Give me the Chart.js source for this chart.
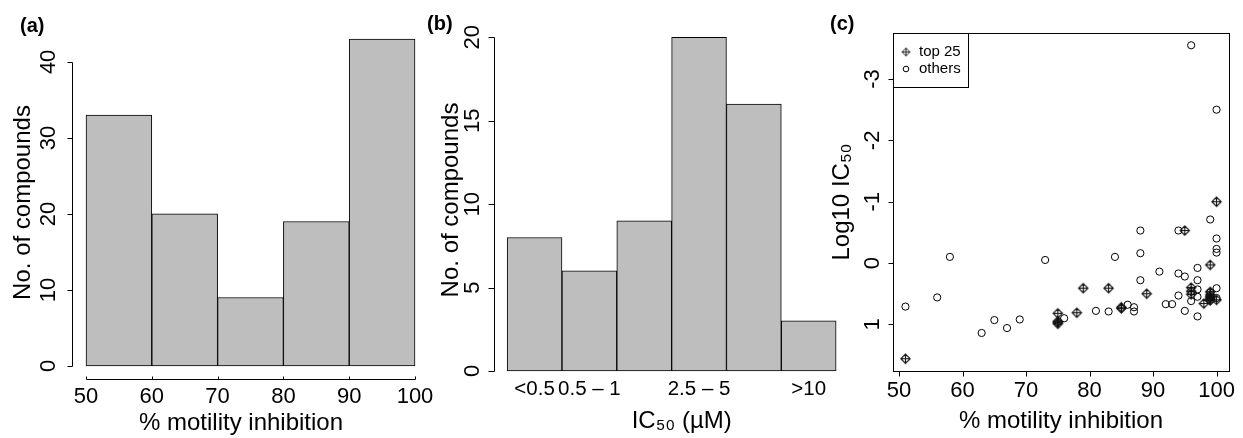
<!DOCTYPE html>
<html>
<head>
<meta charset="utf-8">
<script src="https://cdn.jsdelivr.net/npm/chart.js@4.4.1/dist/chart.umd.min.js"></script>
<style>
  body { margin: 0; background: #fff; width: 1243px; height: 438px; position: relative; overflow: hidden; }
  .panel { position: absolute; top: 0; height: 438px; }
</style>
</head>
<body>
<div class="panel" style="left:0;width:440px"><canvas id="histInhibition"></canvas></div>
<div class="panel" style="left:420px;width:460px"><canvas id="histIC50"></canvas></div>
<div class="panel" style="left:820px;width:423px"><canvas id="scatterIC50"></canvas></div>
<script>
// (a) histogram of % motility inhibition
const inhibitionBins = [50, 60, 70, 80, 90];
const inhibitionCounts = [33, 20, 9, 19, 43];
const inhibitionTicks = [50, 60, 70, 80, 90, 100];
const countTicksA = [0, 10, 20, 30, 40];

// (b) IC50 classes
const ic50Categories = ['<0.5', '0.5 – 1', '1 – 2.5', '2.5 – 5', '5 – 10', '>10'];
const ic50Counts = [8, 6, 9, 20, 16, 3];
const ic50Shown = [0, 1, 3, 5]; // R dropped the labels that would overlap
const countTicksB = [0, 5, 10, 15, 20];

// (c) inhibition vs log10 IC50
const top25Inhibition = [51, 75, 75, 75, 75, 78, 79, 83, 85, 85, 89, 95, 96, 96, 96, 98, 99, 99, 99, 99, 99, 99, 100, 100, 99];
const top25LogIC50 = [1.56, 0.82, 0.95, 0.99, 0.97, 0.81, 0.41, 0.41, 0.74, 0.72, 0.50, -0.53, 0.40, 0.46, 0.51, 0.66, 0.03, 0.47, 0.52, 0.55, 0.57, 0.61, -1.00, 0.60, 0.59];
const othersInhibition = [51, 56, 58, 63, 65, 67, 69, 73, 76, 81, 83, 84, 86, 87, 87, 88, 88, 88, 91, 92, 93, 94, 94, 94, 95, 95, 96, 96, 97, 97, 97, 97, 97, 99, 99, 100, 100, 100, 100, 100, 100];
const othersLogIC50 = [0.71, 0.56, -0.10, 1.14, 0.93, 1.06, 0.92, -0.05, 0.90, 0.78, 0.79, -0.10, 0.68, 0.72, 0.79, -0.53, -0.16, 0.28, 0.14, 0.67, 0.67, -0.53, 0.17, 0.53, 0.22, 0.78, -3.55, 0.62, 0.08, 0.28, 0.43, 0.55, 0.87, -0.71, 0.48, -2.50, -0.40, -0.23, -0.17, 0.41, 0.57];
const logTicks = [-3, -2, -1, 0, 1];

const FONT = '"Liberation Sans", Arial, Helvetica, sans-serif';
const tickFont = { family: FONT, size: 22 };
const tickFontB = { family: FONT, size: 20.5 };
const titleFont = { family: FONT, size: 24 };

// R pch 9: diamond with a plus inside
function diamondPlus(scale, lw) {
  const c = document.createElement('canvas');
  const n = Math.round(13 * scale);
  c.width = n; c.height = n;
  const g = c.getContext('2d');
  const m = n / 2, h = 4.7 * scale;
  g.strokeStyle = '#111';
  g.lineWidth = lw;
  g.beginPath();
  g.moveTo(m, m - h); g.lineTo(m + h, m); g.lineTo(m, m + h); g.lineTo(m - h, m); g.closePath();
  g.moveTo(m, m - h); g.lineTo(m, m + h);
  g.moveTo(m - h, m); g.lineTo(m + h, m);
  g.stroke();
  return c;
}
const diamondImg = diamondPlus(1, 1.1);
const diamondSmall = diamondPlus(0.85, 0.9);

// base-graphics style axes: line only between first and last tick, box, panel tag, legend
const rAxes = {
  id: 'rAxes',
  afterDraw(chart, args, opts) {
    const ctx = chart.ctx, ca = chart.chartArea;
    ctx.save();
    ctx.strokeStyle = '#000';
    ctx.lineWidth = 1;
    (opts.axes || []).forEach(function(a) {
      const s = chart.scales[a.id];
      ctx.beginPath();
      if (s.isHorizontal()) {
        const y = Math.round(ca.bottom) + 0.5;
        if (a.line) {
          ctx.moveTo(Math.round(s.getPixelForValue(a.line[0])) + 0.5, y);
          ctx.lineTo(Math.round(s.getPixelForValue(a.line[1])) + 0.5, y);
        }
        s.ticks.forEach(function(t) {
          const x = Math.round(s.getPixelForValue(t.value)) + 0.5;
          ctx.moveTo(x, y); ctx.lineTo(x, y + a.tick);
        });
      } else {
        const x = Math.round(ca.left) + 0.5;
        if (a.line) {
          ctx.moveTo(x, Math.round(s.getPixelForValue(a.line[0])) + 0.5);
          ctx.lineTo(x, Math.round(s.getPixelForValue(a.line[1])) + 0.5);
        }
        s.ticks.forEach(function(t) {
          const y = Math.round(s.getPixelForValue(t.value)) + 0.5;
          ctx.moveTo(x, y); ctx.lineTo(x - a.tick, y);
        });
      }
      ctx.stroke();
    });
    if (opts.box) {
      ctx.strokeRect(Math.round(ca.left) + 0.5, Math.round(ca.top) + 0.5, Math.round(ca.width), Math.round(ca.height));
    }
    if (opts.legend) {
      ctx.font = '15px ' + FONT;
      const labels = chart.data.datasets.map(d => d.label);
      const w = 26 + Math.max.apply(null, labels.map(l => ctx.measureText(l).width)) + 7;
      const x0 = Math.round(ca.left) + 0.5, y0 = Math.round(ca.top) + 0.5;
      ctx.strokeRect(x0, y0, Math.round(w), 54);
      ctx.fillStyle = '#000';
      ctx.textBaseline = 'middle';
      chart.data.datasets.forEach(function(d, i) {
        const cy = ca.top + 19 + i * 17;
        if (d.pointStyle === 'circle') {
          ctx.beginPath();
          ctx.arc(ca.left + 13, cy, 2.8, 0, Math.PI * 2);
          ctx.stroke();
        } else {
          ctx.drawImage(diamondSmall, ca.left + 13 - diamondSmall.width / 2, cy - diamondSmall.height / 2);
        }
        ctx.fillText(d.label, ca.left + 26, cy);
      });
    }
    if (opts.tag) {
      ctx.font = 'bold 20px ' + FONT;
      ctx.fillStyle = '#000';
      ctx.textBaseline = 'middle';
      ctx.textAlign = 'left';
      ctx.fillText(opts.tag, opts.tagX, opts.tagY);
    }
    ctx.restore();
  }
};

function fixedTicks(values) {
  return function(scale) { scale.ticks = values.map(v => ({ value: v })); };
}

function baseOptions() {
  return {
    animation: false,
    responsive: true,
    maintainAspectRatio: false,
    events: [],
    plugins: { legend: { display: false }, tooltip: { enabled: false } }
  };
}

// ---------- (a) ----------
const optA = baseOptions();
optA.layout = { padding: { top: 26, right: 30, left: 0, bottom: 0 } };
optA.plugins.rAxes = {
  tag: '(a)', tagX: 20, tagY: 26,
  axes: [ { id: 'x', line: [50, 100], tick: -3 }, { id: 'y', line: [0, 40], tick: 5 } ]
};
optA.scales = {
  x: {
    type: 'linear', min: 47.87, max: 99.24, offset: false,
    afterBuildTicks: fixedTicks(inhibitionTicks),
    afterFit: function(s) { s.height = 59; },
    grid: { display: false, drawTicks: false, offset: false },
    border: { display: false },
    ticks: { font: tickFont, color: '#000', padding: 4.8, maxRotation: 0 },
    title: { display: true, text: '% motility inhibition', font: titleFont, color: '#000', padding: { top: 0, bottom: 0 } }
  },
  y: {
    min: -1.72, max: 44.72,
    afterBuildTicks: fixedTicks(countTicksA),
    afterFit: function(s) { s.width = 72; },
    grid: { display: false, drawTicks: false },
    border: { display: false },
    ticks: { font: tickFont, color: '#000', padding: 10.8, minRotation: 90, maxRotation: 90, crossAlign: 'center' },
    title: { display: true, text: 'No. of compounds', font: titleFont, color: '#000', padding: { top: 8.9, bottom: 0 } }
  }
};
new Chart(document.getElementById('histInhibition'), {
  type: 'bar',
  data: {
    datasets: [{
      label: 'No. of compounds',
      data: inhibitionBins.map((b, i) => ({ x: b + 5, y: inhibitionCounts[i] })),
      backgroundColor: '#bebebe',
      borderColor: '#000',
      borderWidth: 1,
      borderSkipped: false,
      barPercentage: 1,
      categoryPercentage: 1,
      clip: false
    }]
  },
  options: optA,
  plugins: [rAxes]
});

// ---------- (b) ----------
const optB = baseOptions();
optB.layout = { padding: { top: 24, right: 10.6, left: 0, bottom: 0 } };
optB.plugins.rAxes = {
  tag: '(b)', tagX: 7, tagY: 24,
  axes: [ { id: 'y', line: [0, 20], tick: 6 } ]
};
optB.scales = {
  x: {
    type: 'linear', min: -0.24, max: 6.607, offset: false,
    afterBuildTicks: fixedTicks(ic50Shown.map(i => i + 0.5)),
    afterFit: function(s) { s.height = 62; },
    grid: { display: false, drawTicks: false, offset: false },
    border: { display: false },
    ticks: { font: tickFontB, color: '#000', padding: 0.6, maxRotation: 0,
      callback: function(v) { return ic50Categories[Math.round(v - 0.5)]; } },
    title: { display: true, text: 'IC₅₀ (µM)', font: titleFont, color: '#000', padding: { top: 0, bottom: 2 } }
  },
  y: {
    min: -0.3, max: 20.8,
    afterBuildTicks: fixedTicks(countTicksB),
    afterFit: function(s) { s.width = 74; },
    grid: { display: false, drawTicks: false },
    border: { display: false },
    ticks: { font: tickFont, color: '#000', padding: 9.3, minRotation: 90, maxRotation: 90, crossAlign: 'center' },
    title: { display: true, text: 'No. of compounds', font: titleFont, color: '#000', padding: { top: 16.6, bottom: 0 } }
  }
};
new Chart(document.getElementById('histIC50'), {
  type: 'bar',
  data: {
    datasets: [{
      label: 'No. of compounds',
      data: ic50Counts.map((c, i) => ({ x: i + 0.5, y: c })),
      backgroundColor: '#bebebe',
      borderColor: '#000',
      borderWidth: 1,
      borderSkipped: false,
      barPercentage: 1,
      categoryPercentage: 1
    }]
  },
  options: optB,
  plugins: [rAxes]
});

// ---------- (c) ----------
const optC = baseOptions();
optC.layout = { padding: { top: 33, right: 14, left: 0, bottom: 0 } };
optC.plugins.rAxes = {
  tag: '(c)', tagX: 10, tagY: 24, box: true, legend: true,
  axes: [ { id: 'x', tick: 5 }, { id: 'y', tick: 5 } ]
};
optC.scales = {
  x: {
    type: 'linear', min: 49.04, max: 101.96,
    afterBuildTicks: fixedTicks(inhibitionTicks),
    afterFit: function(s) { s.height = 67; },
    grid: { display: false, drawTicks: false },
    border: { display: false },
    ticks: { font: tickFont, color: '#000', padding: 6.8, maxRotation: 0 },
    title: { display: true, text: '% motility inhibition', font: titleFont, color: '#000', padding: { top: 0, bottom: 2.6 } }
  },
  y: {
    type: 'linear', reverse: true, min: -3.75, max: 1.76,
    afterBuildTicks: fixedTicks(logTicks),
    afterFit: function(s) { s.width = 73; },
    grid: { display: false, drawTicks: false },
    border: { display: false },
    ticks: { font: tickFont, color: '#000', padding: 10.2, minRotation: 90, maxRotation: 90, crossAlign: 'center' },
    title: { display: true, text: 'Log10 IC₅₀', font: titleFont, color: '#000', padding: { top: 7.6, bottom: 0 } }
  }
};
new Chart(document.getElementById('scatterIC50'), {
  type: 'scatter',
  data: {
    datasets: [{
      label: 'top 25',
      data: top25Inhibition.map((x, i) => ({ x: x, y: top25LogIC50[i] })),
      pointStyle: diamondImg,
      pointRadius: 4.5,
      borderColor: '#000',
      backgroundColor: 'rgba(0,0,0,0)'
    }, {
      label: 'others',
      data: othersInhibition.map((x, i) => ({ x: x, y: othersLogIC50[i] })),
      pointStyle: 'circle',
      pointRadius: 3.6,
      borderWidth: 1,
      borderColor: '#000',
      backgroundColor: 'rgba(0,0,0,0)'
    }]
  },
  options: optC,
  plugins: [rAxes]
});
</script>
</body>
</html>
